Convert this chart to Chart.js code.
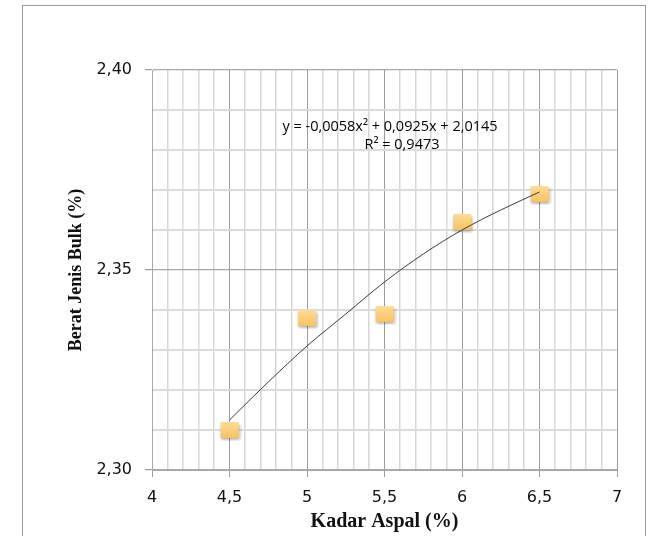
<!DOCTYPE html>
<html>
<head>
<meta charset="utf-8">
<script src="https://cdn.jsdelivr.net/npm/chart.js@4.4.1/dist/chart.umd.min.js"></script>
<style>
  html, body { margin: 0; padding: 0; background: #fff; }
  #wrap { width: 652px; height: 536px; }
</style>
</head>
<body>
<div id="wrap"><canvas id="c" width="652" height="536"></canvas></div>
<script>
// measured points
const kadarAspal = [4.5, 5, 5.5, 6, 6.5];
const beratJenis = [2.310, 2.338, 2.339, 2.362, 2.369];

// trendline
const trendX = [4.5, 4.75, 5, 5.25, 5.5, 5.75, 6, 6.25, 6.5];
const trendY = [2.3125, 2.322, 2.331, 2.339, 2.347, 2.354, 2.360, 2.365, 2.3695];

const equationText = 'y = -0,0058x² + 0,0925x + 2,0145';
const r2Text = 'R² = 0,9473';

// square marker with a soft shadow
function makeMarker() {
  const c = document.createElement('canvas');
  c.width = 24; c.height = 22;
  const g = c.getContext('2d');
  g.shadowColor = 'rgba(0,0,0,0.35)';
  g.shadowBlur = 3;
  g.shadowOffsetX = 1;
  g.shadowOffsetY = 1.5;
  const grad = g.createLinearGradient(0, 3, 0, 19);
  grad.addColorStop(0, '#ffdc96');
  grad.addColorStop(1, '#f8c263');
  g.fillStyle = grad;
  g.fillRect(3, 3, 18, 16);
  return c;
}

const isMajor = (v, step) => Math.abs(v / step - Math.round(v / step)) < 1e-6;

const extras = {
  id: 'extras',
  beforeDraw(chart) {
    const ctx = chart.ctx;
    ctx.save();
    ctx.fillStyle = '#fff';
    ctx.fillRect(0, 0, chart.width, chart.height);
    ctx.strokeStyle = '#9a9a9a';
    ctx.lineWidth = 1;
    ctx.strokeRect(22.5, 5.5, 623, 600);
    ctx.restore();
  },
  afterDraw(chart) {
    const ctx = chart.ctx;
    ctx.save();
    ctx.fillStyle = '#000';
    ctx.font = '14.5px "Open Sans"';
    ctx.textAlign = 'center';
    ctx.textBaseline = 'alphabetic';
    ctx.fillText(equationText, 390, 131);
    ctx.fillText(r2Text, 402, 149);
    ctx.restore();
  }
};

new Chart(document.getElementById('c'), {
  type: 'scatter',
  data: {
    datasets: [
      {
        type: 'line',
        data: trendX.map((x, i) => ({ x: x, y: trendY[i] })),
        borderColor: '#3c3c3c',
        borderWidth: 1,
        pointRadius: 0,
        cubicInterpolationMode: 'monotone',
        fill: false
      },
      {
        data: kadarAspal.map((x, i) => ({ x: x, y: beratJenis[i] })),
        pointStyle: makeMarker(),
        pointRadius: 10
      }
    ]
  },
  plugins: [extras],
  options: {
    responsive: false,
    animation: false,
    layout: { padding: { left: 0, top: 70, right: 35, bottom: 0 } },
    plugins: {
      legend: { display: false },
      tooltip: { enabled: false }
    },
    scales: {
      x: {
        type: 'linear',
        min: 4, max: 7,
        afterFit: s => { s.height = 66; },
        ticks: {
          stepSize: 0.1,
          autoSkip: false,
          maxRotation: 0,
          padding: 11,
          color: '#111',
          font: { family: 'DejaVu Sans', size: 16 },
          callback: v => isMajor(v, 0.5) ? String(Math.round(v * 10) / 10).replace('.', ',') : ''
        },
        grid: {
          color: c => isMajor(c.tick.value, 0.5) ? '#9c9c9c' : '#d6d6d6',
          lineWidth: c => isMajor(c.tick.value, 0.5) ? 1 : 1.5,
          tickColor: c => isMajor(c.tick.value, 0.5) ? '#9c9c9c' : 'rgba(0,0,0,0)',
          tickLength: 7
        },
        border: { color: '#a8a8a8', width: 1 },
        title: {
          display: true,
          text: 'Kadar Aspal (%)',
          color: '#111',
          font: { family: 'Liberation Serif', size: 20, weight: 'bold' },
          padding: { top: 0, bottom: 2 }
        }
      },
      y: {
        min: 2.30, max: 2.40,
        afterFit: s => { s.width = 152; },
        ticks: {
          stepSize: 0.01,
          autoSkip: false,
          padding: 13,
          color: '#111',
          font: { family: 'DejaVu Sans', size: 16 },
          callback: v => isMajor(v, 0.05) ? v.toFixed(2).replace('.', ',') : ''
        },
        grid: {
          color: c => isMajor(c.tick.value, 0.05) ? '#a8a8a8' : '#dcdcdc',
          lineWidth: c => isMajor(c.tick.value, 0.05) ? 1.2 : 2,
          tickColor: c => isMajor(c.tick.value, 0.05) ? '#9c9c9c' : 'rgba(0,0,0,0)',
          tickLength: 7
        },
        border: { color: '#a8a8a8', width: 1 },
        title: {
          display: true,
          text: 'Berat Jenis Bulk (%)',
          color: '#111',
          font: { family: 'Liberation Serif', size: 18, weight: 'bold' },
          padding: { top: 66, bottom: 0 }
        }
      }
    }
  }
});
</script>
</body>
</html>
